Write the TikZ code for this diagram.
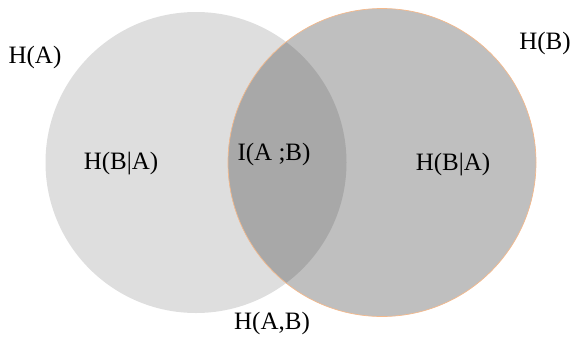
\documentclass[tikz,border=0pt]{standalone}
\usepackage{fontspec}
\setmainfont{Liberation Serif}
\begin{document}
\begin{tikzpicture}[x=1pt,y=-1pt,
  lbl/.style={font=\fontsize{25}{28}\selectfont, text=black, inner sep=0pt},
  setA/.style={fill=black!13},
  setB/.style={fill=black!25},
  both/.style={fill=black!34}]
\useasboundingbox (0,0) rectangle (573,338);
% the two entropy circles
\coordinate (ca) at (196,162.5);
\coordinate (cb) at (382,162.5);
\fill[setA] (ca) circle[radius=150.5];
\fill[setB] (cb) circle[radius=154];
% shared part: mutual information
\begin{scope}
  \clip (ca) circle[radius=150.5];
  \fill[both] (cb) circle[radius=154];
\end{scope}
\draw[draw={rgb,255:red,244;green,185;blue,140}, line width=0.7pt] (cb) circle[radius=154];
% labels
\node[lbl] (ha) at (35,57) {H(A)};
\node[lbl] (hb) at (545,43) {H(B)};
\node[lbl] (hba) at (121,164) {H(B|A)};
\node[lbl] (iab) at (274,154) {I(A ;B)};
\node[lbl] (hab) at (453,165) {H(B|A)};
\node[lbl] (hjoint) at (272,323) {H(A,B)};
\end{tikzpicture}
\end{document}
